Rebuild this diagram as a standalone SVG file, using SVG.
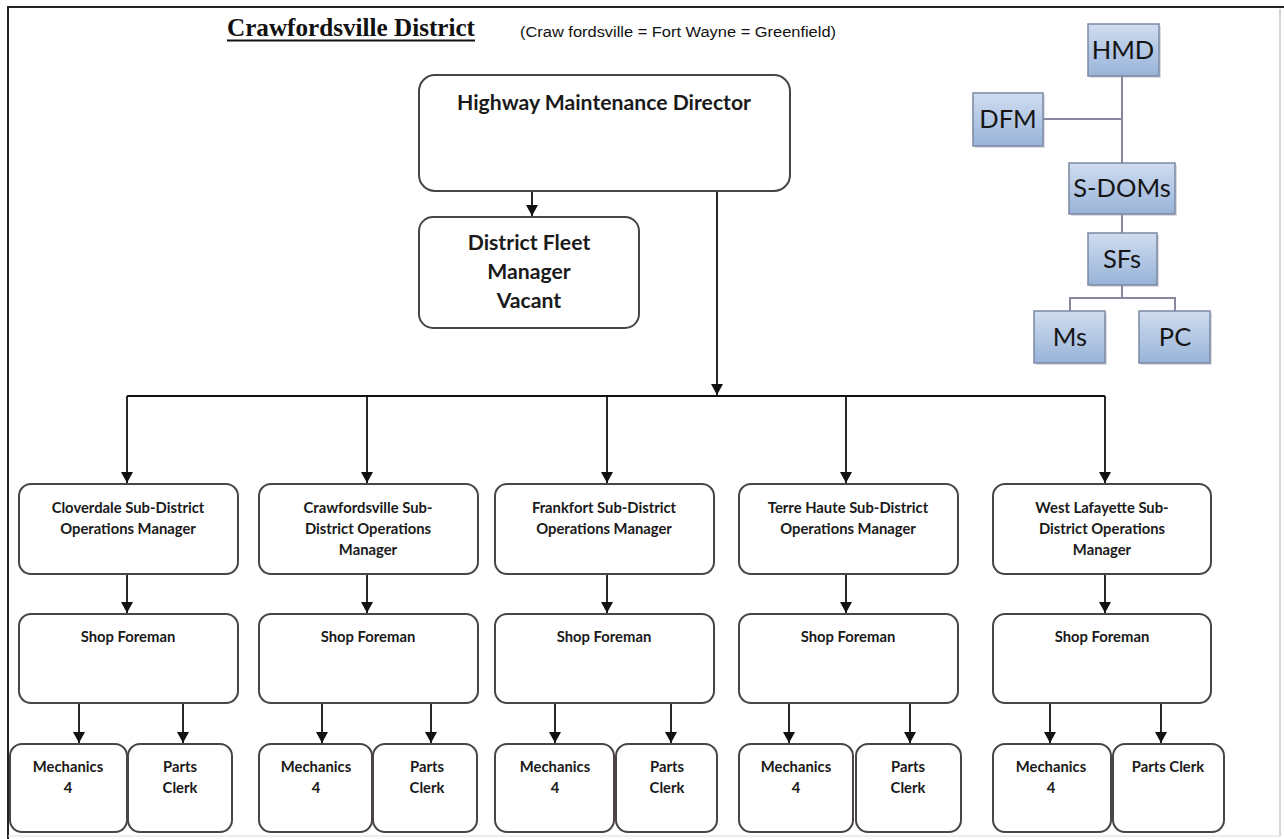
<svg xmlns="http://www.w3.org/2000/svg" width="1284" height="839" viewBox="0 0 1284 839">
  <defs>
    <marker id="arrow" markerWidth="13" markerHeight="13" refX="11" refY="6" orient="auto" markerUnits="userSpaceOnUse">
      <path d="M0,0 L11,6 L0,12 Z" fill="#111"/>
    </marker>
    <linearGradient id="legendFill" x1="0" y1="0" x2="0" y2="1">
      <stop offset="0" stop-color="#d0ddf0"/>
      <stop offset="1" stop-color="#98b3d8"/>
    </linearGradient>
    <style>
      .box { fill: #ffffff; stroke: #4a4444; stroke-width: 2; }
      .wire { fill: none; stroke: #111; stroke-width: 1.8; }
      .arr { marker-end: url(#arrow); }
      .lbl { font-family: Lato, "Open Sans", sans-serif; font-weight: bold; fill: #1a1a1a; text-anchor: middle; }
      .s14 { font-size: 14.8px; }
      .s20 { font-size: 21.2px; }
      .lg { fill: url(#legendFill); stroke: #7b88a4; stroke-width: 1.5; }
      .lgshadow { fill: #9a9aa6; opacity: 0.35; }
      .lgtxt { font-family: Lato, "Open Sans", sans-serif; font-size: 25.5px; fill: #151515; text-anchor: middle; }
      .lgwire { fill: none; stroke: #8a86a0; stroke-width: 2; }
    </style>
  </defs>

  <rect x="0" y="0" width="1284" height="839" fill="#ffffff"/>

  <!-- page frame -->
  <g id="frame">
    <line x1="7" y1="7" x2="1284" y2="7" stroke="#222" stroke-width="2.2"/>
    <line x1="8" y1="7" x2="8" y2="839" stroke="#222" stroke-width="2"/>
    <line x1="1280" y1="9" x2="1280" y2="836" stroke="#c8c8cc" stroke-width="1.5"/>
    <line x1="8" y1="836" x2="1280" y2="836" stroke="#dcdce0" stroke-width="1"/>
  </g>

  <!-- heading -->
  <g id="title">
    <text x="351" y="36" font-family="Liberation Serif, serif" font-weight="bold" font-size="25" text-anchor="middle" fill="#111" textLength="248" lengthAdjust="spacingAndGlyphs">Crawfordsville District</text>
    <line x1="227" y1="40.5" x2="475" y2="40.5" stroke="#111" stroke-width="2"/>
    <text x="520" y="37" font-family="Liberation Sans, Arial, sans-serif" font-size="14" fill="#111" textLength="316" lengthAdjust="spacingAndGlyphs">(Craw fordsville = Fort Wayne = Greenfield)</text>
  </g>

  <!-- connectors -->
  <g id="connectors">
    <line class="wire arr" x1="532" y1="191" x2="532" y2="216"/>
    <line class="wire arr" x1="717" y1="191" x2="717" y2="395"/>
    <line class="wire" x1="127" y1="396" x2="1105" y2="396"/>
    <line class="wire arr" x1="127" y1="396" x2="127" y2="483"/>
    <line class="wire arr" x1="367" y1="396" x2="367" y2="483"/>
    <line class="wire arr" x1="607" y1="396" x2="607" y2="483"/>
    <line class="wire arr" x1="846" y1="396" x2="846" y2="483"/>
    <line class="wire arr" x1="1105" y1="396" x2="1105" y2="483"/>

    <line class="wire arr" x1="127" y1="574" x2="127" y2="613"/>
    <line class="wire arr" x1="367" y1="574" x2="367" y2="613"/>
    <line class="wire arr" x1="607" y1="574" x2="607" y2="613"/>
    <line class="wire arr" x1="846" y1="574" x2="846" y2="613"/>
    <line class="wire arr" x1="1105" y1="574" x2="1105" y2="613"/>

    <line class="wire arr" x1="79" y1="703" x2="79" y2="743"/>
    <line class="wire arr" x1="183" y1="703" x2="183" y2="743"/>
    <line class="wire arr" x1="322" y1="703" x2="322" y2="743"/>
    <line class="wire arr" x1="431" y1="703" x2="431" y2="743"/>
    <line class="wire arr" x1="555" y1="703" x2="555" y2="743"/>
    <line class="wire arr" x1="671" y1="703" x2="671" y2="743"/>
    <line class="wire arr" x1="789" y1="703" x2="789" y2="743"/>
    <line class="wire arr" x1="910" y1="703" x2="910" y2="743"/>
    <line class="wire arr" x1="1050" y1="703" x2="1050" y2="743"/>
    <line class="wire arr" x1="1161" y1="703" x2="1161" y2="743"/>
  </g>

  <!-- top of hierarchy -->
  <g id="hmd">
    <rect class="box" x="419" y="75" width="371" height="116" rx="16"/>
    <text class="lbl s20" x="604" y="110">Highway Maintenance Director</text>
  </g>
  <g id="dfm">
    <rect class="box" x="419" y="217" width="220" height="111" rx="14"/>
    <text class="lbl s20" x="529" y="250">District Fleet</text>
    <text class="lbl s20" x="529" y="279">Manager</text>
    <text class="lbl s20" x="529" y="308">Vacant</text>
  </g>

  <!-- sub-district operations managers -->
  <g id="som-cloverdale">
    <rect class="box" x="19" y="484" width="219" height="90" rx="12"/>
    <text class="lbl s14" x="128" y="513">Cloverdale Sub-District</text>
    <text class="lbl s14" x="128" y="534">Operations Manager</text>
  </g>
  <g id="som-crawfordsville">
    <rect class="box" x="259" y="484" width="219" height="90" rx="12"/>
    <text class="lbl s14" x="368" y="513">Crawfordsville Sub-</text>
    <text class="lbl s14" x="368" y="534">District Operations</text>
    <text class="lbl s14" x="368" y="555">Manager</text>
  </g>
  <g id="som-frankfort">
    <rect class="box" x="495" y="484" width="219" height="90" rx="12"/>
    <text class="lbl s14" x="604" y="513">Frankfort Sub-District</text>
    <text class="lbl s14" x="604" y="534">Operations Manager</text>
  </g>
  <g id="som-terre-haute">
    <rect class="box" x="739" y="484" width="219" height="90" rx="12"/>
    <text class="lbl s14" x="848" y="513">Terre Haute Sub-District</text>
    <text class="lbl s14" x="848" y="534">Operations Manager</text>
  </g>
  <g id="som-west-lafayette">
    <rect class="box" x="993" y="484" width="218" height="90" rx="12"/>
    <text class="lbl s14" x="1102" y="513">West Lafayette Sub-</text>
    <text class="lbl s14" x="1102" y="534">District Operations</text>
    <text class="lbl s14" x="1102" y="555">Manager</text>
  </g>

  <!-- shop foremen -->
  <g id="sf-cloverdale">
    <rect class="box" x="19" y="614" width="219" height="89" rx="12"/>
    <text class="lbl s14" x="128" y="642">Shop Foreman</text>
  </g>
  <g id="sf-crawfordsville">
    <rect class="box" x="259" y="614" width="219" height="89" rx="12"/>
    <text class="lbl s14" x="368" y="642">Shop Foreman</text>
  </g>
  <g id="sf-frankfort">
    <rect class="box" x="495" y="614" width="219" height="89" rx="12"/>
    <text class="lbl s14" x="604" y="642">Shop Foreman</text>
  </g>
  <g id="sf-terre-haute">
    <rect class="box" x="739" y="614" width="219" height="89" rx="12"/>
    <text class="lbl s14" x="848" y="642">Shop Foreman</text>
  </g>
  <g id="sf-west-lafayette">
    <rect class="box" x="993" y="614" width="218" height="89" rx="12"/>
    <text class="lbl s14" x="1102" y="642">Shop Foreman</text>
  </g>

  <!-- mechanics and parts clerks -->
  <g id="mech-cloverdale">
    <rect class="box" x="10" y="744" width="117" height="88" rx="12"/>
    <text class="lbl s14" x="68" y="772">Mechanics</text>
    <text class="lbl s14" x="68" y="793">4</text>
  </g>
  <g id="pc-cloverdale">
    <rect class="box" x="128" y="744" width="104" height="88" rx="12"/>
    <text class="lbl s14" x="180" y="772">Parts</text>
    <text class="lbl s14" x="180" y="793">Clerk</text>
  </g>
  <g id="mech-crawfordsville">
    <rect class="box" x="259" y="744" width="113" height="88" rx="12"/>
    <text class="lbl s14" x="316" y="772">Mechanics</text>
    <text class="lbl s14" x="316" y="793">4</text>
  </g>
  <g id="pc-crawfordsville">
    <rect class="box" x="373" y="744" width="104" height="88" rx="12"/>
    <text class="lbl s14" x="427" y="772">Parts</text>
    <text class="lbl s14" x="427" y="793">Clerk</text>
  </g>
  <g id="mech-frankfort">
    <rect class="box" x="495" y="744" width="119" height="88" rx="12"/>
    <text class="lbl s14" x="555" y="772">Mechanics</text>
    <text class="lbl s14" x="555" y="793">4</text>
  </g>
  <g id="pc-frankfort">
    <rect class="box" x="616" y="744" width="101" height="88" rx="12"/>
    <text class="lbl s14" x="667" y="772">Parts</text>
    <text class="lbl s14" x="667" y="793">Clerk</text>
  </g>
  <g id="mech-terre-haute">
    <rect class="box" x="739" y="744" width="114" height="88" rx="12"/>
    <text class="lbl s14" x="796" y="772">Mechanics</text>
    <text class="lbl s14" x="796" y="793">4</text>
  </g>
  <g id="pc-terre-haute">
    <rect class="box" x="856" y="744" width="105" height="88" rx="12"/>
    <text class="lbl s14" x="908" y="772">Parts</text>
    <text class="lbl s14" x="908" y="793">Clerk</text>
  </g>
  <g id="mech-west-lafayette">
    <rect class="box" x="993" y="744" width="118" height="88" rx="12"/>
    <text class="lbl s14" x="1051" y="772">Mechanics</text>
    <text class="lbl s14" x="1051" y="793">4</text>
  </g>
  <g id="pc-west-lafayette">
    <rect class="box" x="1113" y="744" width="111" height="88" rx="12"/>
    <text class="lbl s14" x="1168" y="772">Parts Clerk</text>
  </g>

  <!-- abbreviation key -->
  <g id="key-connectors">
    <polyline class="lgwire" points="1122,76 1122,163"/>
    <polyline class="lgwire" points="1043,119 1122,119"/>
    <polyline class="lgwire" points="1122,214 1122,233"/>
    <polyline class="lgwire" points="1122,285 1122,298"/>
    <polyline class="lgwire" points="1070,311 1070,298 1175,298 1175,311"/>
  </g>
  <g id="key-hmd">
    <rect class="lgshadow" x="1090" y="26" width="71" height="52"/>
    <rect class="lg" x="1088" y="24" width="71" height="52"/>
    <text class="lgtxt" x="1123" y="59">HMD</text>
  </g>
  <g id="key-dfm">
    <rect class="lgshadow" x="975" y="95" width="70" height="53"/>
    <rect class="lg" x="973" y="93" width="70" height="53"/>
    <text class="lgtxt" x="1008" y="128">DFM</text>
  </g>
  <g id="key-sdoms">
    <rect class="lgshadow" x="1071" y="165" width="106" height="51"/>
    <rect class="lg" x="1069" y="163" width="106" height="51"/>
    <text class="lgtxt" x="1122" y="197">S-DOMs</text>
  </g>
  <g id="key-sfs">
    <rect class="lgshadow" x="1090" y="235" width="69" height="52"/>
    <rect class="lg" x="1088" y="233" width="69" height="52"/>
    <text class="lgtxt" x="1122" y="268">SFs</text>
  </g>
  <g id="key-ms">
    <rect class="lgshadow" x="1036" y="313" width="71" height="52"/>
    <rect class="lg" x="1034" y="311" width="71" height="52"/>
    <text class="lgtxt" x="1070" y="346">Ms</text>
  </g>
  <g id="key-pc">
    <rect class="lgshadow" x="1141" y="313" width="71" height="52"/>
    <rect class="lg" x="1139" y="311" width="71" height="52"/>
    <text class="lgtxt" x="1175" y="346">PC</text>
  </g>
</svg>
